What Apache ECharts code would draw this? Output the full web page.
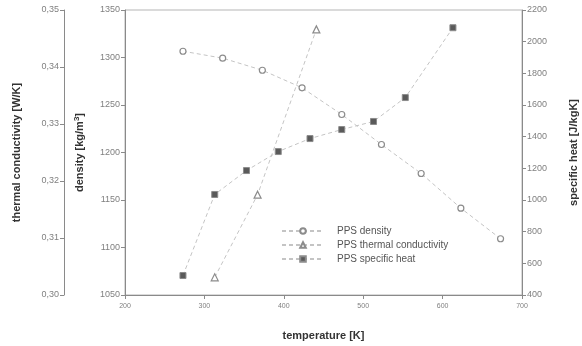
<!DOCTYPE html>
<html>
<head>
<meta charset="utf-8">
<script src="https://cdn.jsdelivr.net/npm/echarts@6/dist/echarts.min.js"></script>
<style>html,body{margin:0;padding:0;background:#fff}#c{width:582px;height:346px}</style>
</head>
<body>
<div id="c"></div>
<script>
// temperatures [K] and values
const densityT = [273, 323, 373, 423, 473, 523, 573, 623, 673];
const densityV = [1306.6, 1299.3, 1286.6, 1268.1, 1240, 1208.4, 1177.9, 1141.4, 1109.2];
const condT = [313, 367, 441];
const condV = [0.3031, 0.3176, 0.3466];
const heatT = [273, 313, 353, 393, 433, 473, 513, 553, 613];
const heatV = [523, 1035, 1186, 1306, 1388, 1445, 1496, 1647, 2088];
const seriesNames = ['PPS density', 'PPS thermal conductivity', 'PPS specific heat'];

const FONT = '"Liberation Sans", Arial, sans-serif';
const axisCol = '#8a8a8a';
const labCol = '#808080';
const titleStyle = {fontFamily: FONT, fontSize: 11, fontWeight: 'bold', color: '#333'};
const lineStyle = {color: '#c4c4c4', width: 1, type: [4, 3]};
const plain = v => String(v);

const chart = echarts.init(document.getElementById('c'), null, {renderer: 'canvas'});
const yBase = {
  type: 'value',
  splitLine: {show: false},
  axisLine: {show: true, lineStyle: {color: axisCol}},
  axisTick: {show: true, length: 4, lineStyle: {color: axisCol}},
  axisLabel: {fontFamily: FONT, fontSize: 9, color: labCol, margin: 5, formatter: plain},
  nameLocation: 'middle',
  nameRotate: 90,
  nameTextStyle: titleStyle
};
chart.setOption({
  animation: false,
  textStyle: {fontFamily: FONT},
  grid: {left: 125, right: 60, top: 10, bottom: 51, show: true, borderColor: '#b5b5b5', borderWidth: 1,
         containLabel: false, outerBoundsMode: 'none'},
  legend: {
    left: 276, top: 221, orient: 'vertical',
    itemWidth: 42, itemHeight: 7, itemGap: 4,
    textStyle: {fontFamily: FONT, fontSize: 10, color: '#555', padding: [0, 0, 0, 8]},
    data: seriesNames
  },
  xAxis: {
    type: 'value', min: 200, max: 700, interval: 100,
    splitLine: {show: false},
    axisLine: {show: true, onZero: false, lineStyle: {color: axisCol}},
    axisTick: {show: true, length: 4, lineStyle: {color: axisCol}},
    axisLabel: {fontFamily: FONT, fontSize: 7, color: labCol, margin: 8, formatter: plain},
    name: 'temperature [K]', nameLocation: 'middle', nameGap: 35,
    nameTextStyle: titleStyle
  },
  yAxis: [
    Object.assign({}, yBase, {
      position: 'left', min: 1050, max: 1350, interval: 50,
      name: 'density [kg/m{sup|3}]', nameGap: 38,
      nameTextStyle: Object.assign({}, titleStyle, {
        rich: {sup: {fontFamily: FONT, fontSize: 8, fontWeight: 'bold', color: '#333', verticalAlign: 'top', padding: [0, 0, 6, 0]}}
      })
    }),
    Object.assign({}, yBase, {
      position: 'right', min: 400, max: 2200, interval: 200,
      name: 'specific heat [J/kgK]', nameGap: 46, nameRotate: 90
    }),
    Object.assign({}, yBase, {
      position: 'left', offset: 61, min: 0.30, max: 0.35, interval: 0.01,
      axisLabel: Object.assign({}, yBase.axisLabel, {formatter: v => v.toFixed(2).replace('.', ',')}),
      name: 'thermal conductivity [W/K]', nameGap: 42
    })
  ],
  series: [
    {
      name: seriesNames[0], type: 'line', yAxisIndex: 0,
      data: densityT.map((t, i) => [t, densityV[i]]),
      symbol: 'circle', symbolSize: 6,
      itemStyle: {color: '#fff', borderColor: '#8c8c8c', borderWidth: 1.2},
      lineStyle: lineStyle
    },
    {
      name: seriesNames[1], type: 'line', yAxisIndex: 2,
      data: condT.map((t, i) => [t, condV[i]]),
      symbol: 'triangle', symbolSize: 7,
      itemStyle: {color: '#fff', borderColor: '#8c8c8c', borderWidth: 1.2},
      lineStyle: lineStyle
    },
    {
      name: seriesNames[2], type: 'line', yAxisIndex: 1,
      data: heatT.map((t, i) => [t, heatV[i]]),
      symbol: 'rect', symbolSize: 6,
      itemStyle: {color: '#5a5a5a', borderColor: '#8c8c8c', borderWidth: 1},
      lineStyle: lineStyle
    }
  ]
});
</script>
</body>
</html>
